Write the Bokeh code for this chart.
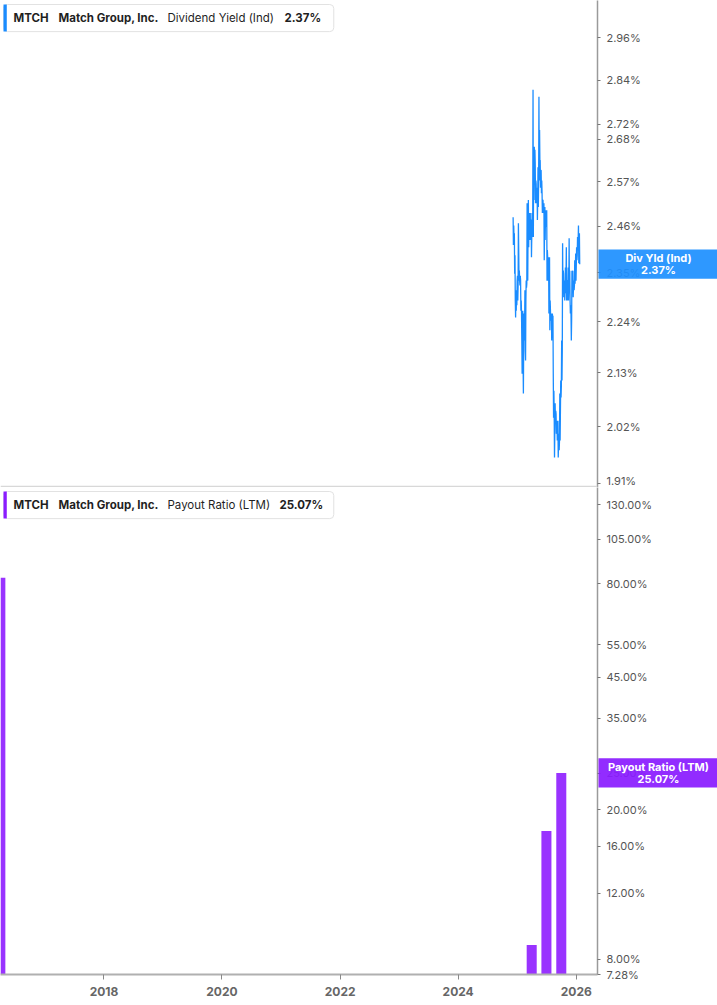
import pandas as pd
from bokeh.plotting import figure
from bokeh.layouts import column
from bokeh.models import (Range1d, FixedTicker, PrintfTickFormatter,
                          DatetimeTickFormatter, Label, Span, ColumnDataSource)
from bokeh.embed import file_html
from bokeh.resources import INLINE

# ---------------- data ----------------
ticker_symbol = "MTCH"
company_name = "Match Group, Inc."

yield_title = "Dividend Yield (Ind)"
yield_short = "Div Yld (Ind)"
yield_last = 2.37
yield_start = "2024-12-06"
yield_end = "2026-01-22"
yield_values = [
    2.482, 2.415, 2.462, 2.427, 2.443, 2.348, 2.391, 2.287, 2.249, 2.310, 2.264,
    2.310, 2.276, 2.332, 2.343, 2.287, 2.321, 2.467, 2.403, 2.332, 2.355,
    2.332, 2.321, 2.343, 2.332, 2.264, 2.287, 2.258, 2.199, 2.128, 2.221,
    2.264, 2.156, 2.087, 2.199, 2.258, 2.199, 2.242, 2.310, 2.177, 2.156, 2.287,
    2.332, 2.316, 2.325, 2.516, 2.379, 2.332, 2.450, 2.524, 2.410, 2.475,
    2.492, 2.427, 2.462, 2.492, 2.427, 2.475, 2.475, 2.386, 2.438,
    2.492, 2.434, 2.475, 2.813, 2.434, 2.652, 2.524, 2.660, 2.607, 2.652,
    2.617, 2.516, 2.573, 2.565, 2.516, 2.548, 2.555, 2.475, 2.524,
    2.607, 2.507, 2.573, 2.794, 2.573, 2.704, 2.625, 2.625, 2.555, 2.599,
    2.599, 2.541, 2.573, 2.541, 2.492, 2.524, 2.524, 2.492, 2.511,
    2.516, 2.379, 2.450, 2.507, 2.427, 2.487, 2.499, 2.458, 2.487,
    2.499, 2.332, 2.403, 2.386, 2.332, 2.367, 2.386, 2.258, 2.310,
    2.386, 2.221, 2.287, 2.264, 2.242, 2.253, 2.258, 2.199, 2.242,
    2.258, 2.249, 2.253, 2.128, 2.038, 2.093, 2.046, 1.960, 2.012,
    2.067, 2.026, 2.052, 2.046, 2.006, 2.032, 2.026, 1.993, 2.012,
    2.032, 1.960, 1.993, 2.006, 1.974, 1.993, 2.087, 1.993, 2.052,
    2.114, 2.079, 2.103, 2.199, 2.114, 2.177, 2.419, 2.303, 2.355,
    2.348, 2.294, 2.321, 2.332, 2.287, 2.310, 2.362, 2.303, 2.343,
    2.410, 2.287, 2.332, 2.332, 2.287, 2.310, 2.362, 2.287, 2.321,
    2.431, 2.303, 2.355, 2.287, 2.258, 2.276, 2.258, 2.199, 2.242,
    2.355, 2.303, 2.332, 2.355, 2.294, 2.321, 2.332, 2.310, 2.321,
    2.379, 2.325, 2.355, 2.395, 2.332, 2.367, 2.410, 2.379, 2.391,
    2.434, 2.403, 2.427, 2.462, 2.372, 2.427, 2.443, 2.370,
]
yield_ticks = [1.91, 2.02, 2.13, 2.24, 2.35, 2.46, 2.57, 2.68, 2.72, 2.84, 2.96]
yield_range = [1.903, 3.071]

payout_title = "Payout Ratio (LTM)"
payout_last = 25.07
payout_dates = ["2016-03-31", "2025-03-31", "2025-06-30", "2025-09-30"]
payout_values = [83.0, 8.72, 17.56, 25.07]
payout_ticks = [7.28, 8, 12, 16, 20, 25, 35, 45, 55, 80, 105, 130]
payout_range = [7.28, 144.3]

year_ticks = [2018, 2020, 2022, 2024, 2026]
x_start = "2016-04-01"
x_end = "2026-05-12"

# ---------------- styling ----------------
FONT = "Inter"
BLUE = "#1a8cff"
BLUE_BOX = "#1e90ff"
PURPLE = "#9933ff"
PURPLE_BOX = "#8a1cff"
FRAME_W = 597
AXIS_W = 120
FRAME_H = 487

x_range = Range1d(pd.Timestamp(x_start), pd.Timestamp(x_end))
X_END_MS = pd.Timestamp(x_end).value / 1e6


def style_yaxis(p, ticks):
    ax = p.yaxis[0]
    ax.ticker = FixedTicker(ticks=ticks, minor_ticks=[])
    ax.formatter = PrintfTickFormatter(format="%.2f%%")
    ax.axis_line_color = "#9a9a9a"
    ax.axis_line_width = 1.5
    ax.major_tick_line_color = "#777777"
    ax.major_tick_out = 3
    ax.major_tick_in = 0
    ax.minor_tick_line_color = None
    ax.major_label_text_font = FONT
    ax.major_label_text_font_size = "11px"
    ax.major_label_text_color = "#555555"
    ax.major_label_standoff = 6


def base_fig(yr, bottom_border, xloc):
    p = figure(frame_width=FRAME_W, frame_height=FRAME_H,
               x_axis_type="datetime", y_axis_type="log",
               x_axis_location=xloc, y_axis_location="right",
               x_range=x_range, y_range=Range1d(*yr),
               output_backend="svg", toolbar_location=None,
               min_border_left=0, min_border_top=0,
               min_border_right=AXIS_W, min_border_bottom=bottom_border)
    p.grid.visible = False
    p.outline_line_color = None
    p.background_fill_color = "white"
    p.border_fill_color = "white"
    return p


def legend_box(p, color, metric, val, text_x):
    top = FRAME_H - 4
    p.add_layout(Label(x=3, y=top, x_units="screen", y_units="screen",
                       text=" ", text_font_size="1px", text_baseline="top",
                       background_fill_color="white", border_line_color="#e2e2e2",
                       border_line_width=1, border_radius=4,
                       padding=dict(left=0, right=330, top=0, bottom=26)))
    p.add_layout(Label(x=3, y=top, x_units="screen", y_units="screen",
                       text=" ", text_font_size="1px", text_baseline="top",
                       background_fill_color=color,
                       padding=dict(left=0, right=3, top=0, bottom=26)))
    ty = FRAME_H - 17
    parts = [(ticker_symbol, "bold", 13), (company_name, "bold", 58),
             (metric, "normal", 167), (val, "bold", text_x)]
    for txt, wt, xx in parts:
        p.add_layout(Label(x=xx, y=ty, x_units="screen", y_units="screen",
                           text=txt, text_font=FONT, text_font_size="11.5px",
                           text_font_style=wt, text_color="#1f1f1f",
                           text_baseline="middle", text_align="left"))


def side_box(p, yval, color, line1, line2):
    p.add_layout(Label(x=X_END_MS, y=yval, x_units="data", y_units="data",
                       x_offset=1, text=" ", text_font_size="1px",
                       text_baseline="middle", text_align="left",
                       background_fill_color=color, background_fill_alpha=0.93,
                       padding=dict(left=0, right=AXIS_W, top=14, bottom=14)),
                 "right")
    for txt, off in [(line1, 6), (line2, -6)]:
        p.add_layout(Label(x=X_END_MS, y=yval, x_units="data", y_units="data",
                           x_offset=1 + AXIS_W / 2, y_offset=off, text=txt,
                           text_font=FONT, text_font_size="11px",
                           text_font_style="bold", text_color="white",
                           text_align="center", text_baseline="middle"),
                     "right")


# ---------------- top: dividend yield ----------------
p1 = base_fig(yield_range, 0, None)
ydates = pd.date_range(yield_start, yield_end, periods=len(yield_values))
src1 = ColumnDataSource(dict(x=ydates, y=yield_values))
p1.line("x", "y", source=src1, line_color=BLUE, line_width=1.3)
style_yaxis(p1, yield_ticks)
p1.add_layout(Span(location=yield_range[0] * 1.001, dimension="width",
                   line_color="#d8d8d8", line_width=1.5))
legend_box(p1, BLUE, yield_title, f"{yield_last:.2f}%", 284)
side_box(p1, yield_last, BLUE_BOX, yield_short, f"{yield_last:.2f}%")

# ---------------- bottom: payout ratio ----------------
p2 = base_fig(payout_range, 31, "below")
src2 = ColumnDataSource(dict(x=pd.to_datetime(payout_dates), top=payout_values))
p2.vbar(x="x", top="top", bottom=1, width=62 * 86400000, source=src2,
        fill_color=PURPLE, line_color=None)
style_yaxis(p2, payout_ticks)
xa = p2.xaxis[0]
xa.ticker = FixedTicker(ticks=[pd.Timestamp(f"{y}-01-01").value / 1e6 for y in year_ticks],
                        minor_ticks=[])
xa.formatter = DatetimeTickFormatter(years="%Y", months="%Y", days="%Y",
                                     hours="%Y", minutes="%Y", seconds="%Y")
xa.axis_line_color = "#b0b0b0"
xa.axis_line_width = 2
xa.major_tick_line_color = "#888888"
xa.major_tick_out = 5
xa.major_tick_in = 0
xa.minor_tick_line_color = None
xa.major_label_text_font = FONT
xa.major_label_text_font_size = "12px"
xa.major_label_text_font_style = "bold"
xa.major_label_text_color = "#666666"
xa.major_label_standoff = 7
legend_box(p2, PURPLE_BOX, payout_title, f"{payout_last:.2f}%", 279)
side_box(p2, payout_last, PURPLE_BOX, payout_title, f"{payout_last:.2f}%")

layout = column(p1, p2, spacing=0)
open("out.html", "w").write(file_html(layout, INLINE))
